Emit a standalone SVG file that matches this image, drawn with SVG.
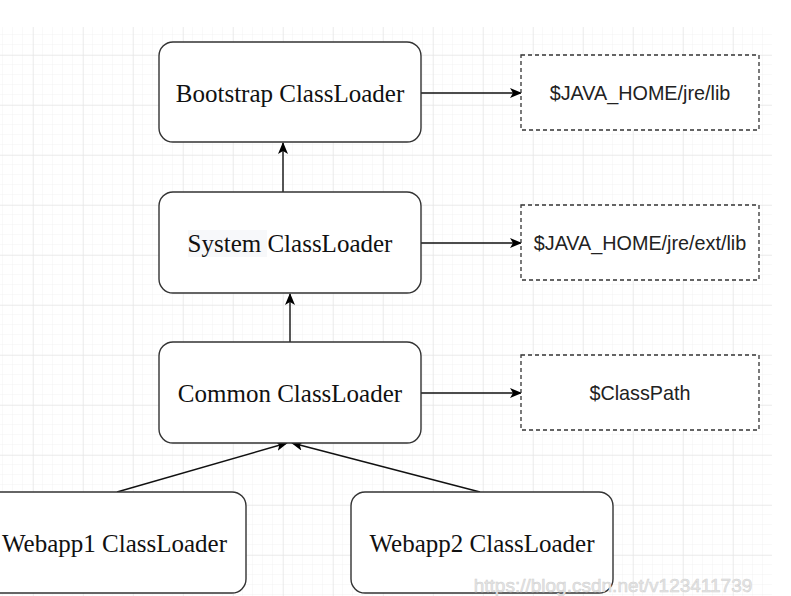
<svg xmlns="http://www.w3.org/2000/svg" width="791" height="596" viewBox="0 0 791 596">
  <defs>
    <pattern id="minor" x="3" y="5" width="10" height="10" patternUnits="userSpaceOnUse">
      <path d="M10 0V10M0 10H10" fill="none" stroke="#f2f2f2" stroke-width="1"/>
    </pattern>
    <pattern id="major" x="33" y="5" width="50" height="50" patternUnits="userSpaceOnUse">
      <path d="M0 0V50M0 0H50" fill="none" stroke="#e2e2e2" stroke-width="1"/>
    </pattern>
    <marker id="arr" viewBox="0 0 12 10" refX="11" refY="5" markerWidth="12" markerHeight="10" markerUnits="userSpaceOnUse" orient="auto">
      <path d="M0 0L12 5L0 10L3 5Z" fill="#000"/>
    </marker>
  </defs>
  <style>
    .cl{fill:#fff;stroke:#333;stroke-width:1.4}
    .dash{fill:#fff;stroke:#333;stroke-width:1.3;stroke-dasharray:4 3}
    .st{font-family:"Liberation Serif","Times New Roman",serif;font-size:25px;fill:#111;text-anchor:middle}
    .sp{font-family:"Liberation Sans",Arial,sans-serif;font-size:19.8px;fill:#222;text-anchor:middle}
    .edge{fill:none;stroke:#111;stroke-width:1.4;marker-end:url(#arr)}
  </style>
  <rect width="791" height="596" fill="#fff"/>
  <rect x="0" y="27" width="772" height="569" fill="url(#minor)"/>
  <rect x="0" y="27" width="772" height="569" fill="url(#major)"/>

  <g id="connectors">
    <path class="edge" d="M283 192V143"/>
    <path class="edge" d="M290 342V294"/>
    <path class="edge" d="M117 492L287 443"/>
    <path class="edge" d="M480 492L292 443"/>
    <path class="edge" d="M421 93H521"/>
    <path class="edge" d="M421 243H521"/>
    <path class="edge" d="M421 393H521"/>
  </g>

  <g id="bootstrap">
    <rect class="cl" x="159" y="42" width="262" height="100" rx="14"/>
    <text class="st" x="290" y="102">Bootstrap ClassLoader</text>
  </g>
  <g id="system">
    <rect class="cl" x="159" y="192" width="262" height="101" rx="14"/>
    <rect x="188" y="230" width="79" height="27" fill="#f7f8fa"/>
    <text class="st" x="290" y="252">System ClassLoader</text>
  </g>
  <g id="common">
    <rect class="cl" x="159" y="342" width="262" height="101" rx="14"/>
    <text class="st" x="290" y="402">Common ClassLoader</text>
  </g>
  <g id="webapp1">
    <rect class="cl" x="-17" y="492" width="263" height="101" rx="14"/>
    <text class="st" x="114.5" y="552">Webapp1 ClassLoader</text>
  </g>
  <g id="webapp2">
    <rect class="cl" x="351" y="492" width="262" height="101" rx="14"/>
    <text class="st" x="482" y="552">Webapp2 ClassLoader</text>
  </g>
  <g id="jre-lib">
    <rect class="dash" x="521" y="55" width="238" height="75"/>
    <text class="sp" x="640" y="100">$JAVA_HOME/jre/lib</text>
  </g>
  <g id="jre-ext-lib">
    <rect class="dash" x="521" y="205" width="238" height="75"/>
    <text class="sp" x="640" y="250">$JAVA_HOME/jre/ext/lib</text>
  </g>
  <g id="classpath">
    <rect class="dash" x="521" y="355" width="238" height="75"/>
    <text class="sp" x="640" y="400">$ClassPath</text>
  </g>
  <text x="613" y="592" font-family="Liberation Sans, Arial, sans-serif" font-size="19px" fill="#e6e6e6" stroke="#cfcfcf" stroke-width="0.5" text-anchor="middle">https://blog.csdn.net/v123411739</text>
</svg>
